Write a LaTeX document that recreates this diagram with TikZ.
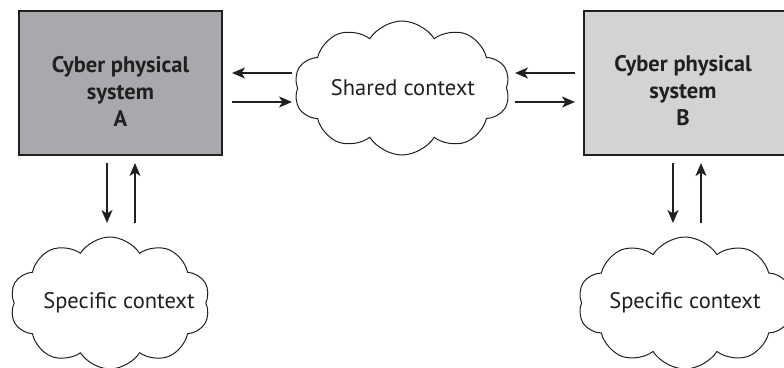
\documentclass[tikz,border=0pt]{standalone}
\usepackage{fontspec}
\setmainfont{PT Sans}
\usetikzlibrary{shapes.symbols,arrows.meta}
\definecolor{boxdark}{HTML}{A7A9AC}
\definecolor{boxlight}{HTML}{D1D3D4}
\definecolor{inkline}{HTML}{231F20}
\tikzset{
  cps/.style={draw=inkline, line width=1.5pt, minimum width=203pt, minimum height=144pt},
  cpstext/.style={align=center, font=\fontsize{22.5}{27}\selectfont\bfseries, text=inkline},
  ctx/.style={cloud, cloud puffs=10, cloud puff arc=115, draw=inkline, line width=1pt,
    fill=white, aspect=1.6},
  ctxtext/.style={text=inkline, font=\fontsize{22.5}{27}\selectfont},
  flow/.style={draw=inkline, line width=1.4pt, -{Stealth[length=13pt,width=11pt,inset=3.5pt]}}
}
\begin{document}
\begin{tikzpicture}[x=1pt,y=-1pt]
\useasboundingbox (0,0) rectangle (784,367);
\clip (0,0) rectangle (784,367);
% systems
\node[cps, fill=boxdark] (A) at (120.5,83) {};
\node[cpstext] (At) at (120.5,91) {Cyber physical\\system\\A};
\node[cps, fill=boxlight] (B) at (685.5,83) {};
\node[cpstext] (Bt) at (683,91) {Cyber physical\\system\\B};
% contexts
\node[ctx, minimum width=216pt, minimum height=134pt] (S) at (402,88) {};
\node[ctxtext] (St) at (403,88) {Shared context};
\node[ctx, minimum width=200pt, minimum height=132pt] (CA) at (110,303) {};
\node[ctxtext] (CAt) at (119,303) {Specific context};
\node[ctx, minimum width=214pt, minimum height=132pt] (CB) at (685,303) {};
\node[ctxtext] (CBt) at (685,303) {Specific context};
% endpoints of the connectors
\coordinate (a1) at (232,73); \coordinate (s1) at (292,73);
\coordinate (a2) at (232,102); \coordinate (s2) at (292,102);
\coordinate (s3) at (515,73); \coordinate (b3) at (575,73);
\coordinate (s4) at (515,102); \coordinate (b4) at (575,102);
\coordinate (ad1) at (107,163); \coordinate (cd1) at (107,223);
\coordinate (au1) at (135,163); \coordinate (cu1) at (135,223);
\coordinate (bd1) at (673,163); \coordinate (ed1) at (673,223);
\coordinate (bu1) at (701,163); \coordinate (eu1) at (701,223);
% connectors
\draw[flow] (s1) -- (a1);
\draw[flow] (a2) -- (s2);
\draw[flow] (b3) -- (s3);
\draw[flow] (s4) -- (b4);
\draw[flow] (ad1) -- (cd1);
\draw[flow] (cu1) -- (au1);
\draw[flow] (bd1) -- (ed1);
\draw[flow] (eu1) -- (bu1);
\end{tikzpicture}
\end{document}
